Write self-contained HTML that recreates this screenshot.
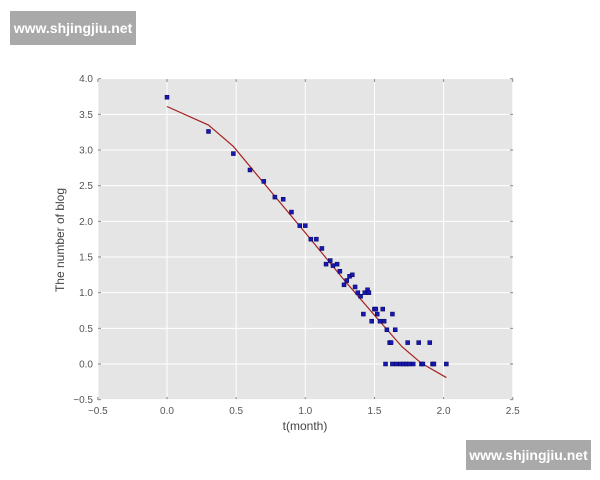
<!DOCTYPE html>
<html><head><meta charset="utf-8"><style>
body{margin:0;background:#fff;width:600px;height:480px;overflow:hidden;font-family:"Liberation Sans",sans-serif}
.wm{position:absolute;background:#a9a9a9;color:#fff;font-size:14px;font-weight:bold;display:flex;align-items:center;justify-content:center}
</style></head><body>
<div class="wm" style="left:10px;top:11px;width:126px;height:34px">www.shjingjiu.net</div>
<div class="wm" style="left:466px;top:440px;width:125px;height:30px">www.shjingjiu.net</div>
<svg id="s" width="600" height="480" style="position:absolute;left:0;top:0;z-index:-1" font-family="Liberation Sans, sans-serif"></svg>
<script>
const s=document.getElementById('s');
const X=v=>167+v*138.3, Y=v=>364-v*71.33;
let h='<rect x="98" y="79" width="415" height="321" fill="#e5e5e5"/>';
for(let v=-0.5;v<=2.51;v+=0.5){const x=X(v);h+=`<line x1="${x}" y1="79" x2="${x}" y2="400" stroke="#fff" stroke-width="1"/><line x1="${x}" y1="79" x2="${x}" y2="82" stroke="#888"/><line x1="${x}" y1="400" x2="${x}" y2="397" stroke="#888"/><text x="${x}" y="414" font-size="10" fill="#555" text-anchor="middle">${v.toFixed(1).replace('-','\u2212')}</text>`;}
for(let v=-0.5;v<=4.01;v+=0.5){const y=Y(v);h+=`<line x1="98" y1="${y}" x2="513" y2="${y}" stroke="#fff"/><line x1="98" y1="${y}" x2="101" y2="${y}" stroke="#888"/><line x1="513" y1="${y}" x2="510" y2="${y}" stroke="#888"/><text x="93" y="${y+3.5}" font-size="10" fill="#555" text-anchor="end">${v.toFixed(1).replace('-','\u2212')}</text>`;}
const L=[[0,3.61],[0.30,3.35],[0.48,3.05],[0.72,2.49],[1.0,1.84],[1.28,1.18],[1.56,0.55],[1.70,0.24],[1.84,0.01],[2.02,-0.19]];
h+=`<polyline fill="none" stroke="#a52020" stroke-width="1.2" points="${L.map(p=>X(p[0])+','+Y(p[1])).join(' ')}"/>`;
const P=[[0,3.74],[0.30,3.26],[0.48,2.95],[0.60,2.72],[0.70,2.56],[0.78,2.34],[0.84,2.31],[0.90,2.13],[0.96,1.94],[1.0,1.94],[1.04,1.75],[1.08,1.75],[1.12,1.62],[1.15,1.40],[1.18,1.45],[1.20,1.38],[1.23,1.40],[1.25,1.30],[1.28,1.11],[1.30,1.17],[1.32,1.23],[1.34,1.25],[1.36,1.08],[1.38,1.0],[1.40,0.95],[1.42,0.70],[1.43,1.0],[1.45,1.04],[1.46,1.0],[1.48,0.60],[1.50,0.77],[1.51,0.77],[1.52,0.70],[1.54,0.60],[1.56,0.77],[1.57,0.60],[1.59,0.48],[1.61,0.30],[1.62,0.30],[1.63,0.70],[1.65,0.48],[1.74,0.30],[1.82,0.30],[1.90,0.30]];
[1.58,1.63,1.66,1.69,1.71,1.73,1.75,1.78,1.84,1.85,1.92,1.93,2.02].forEach(x=>P.push([x,0]));
P.forEach(p=>{h+=`<rect x="${X(p[0])-2}" y="${Y(p[1])-2}" width="4" height="4" fill="#1818b0" stroke="#000060" stroke-width="0.5"/>`;});
h+=`<text x="305" y="430" font-size="12" fill="#444" text-anchor="middle">t(month)</text>`;
h+=`<text transform="translate(64,240) rotate(-90)" font-size="12" fill="#444" text-anchor="middle">The number of blog</text>`;
s.innerHTML=h;
</script>
</body></html>
